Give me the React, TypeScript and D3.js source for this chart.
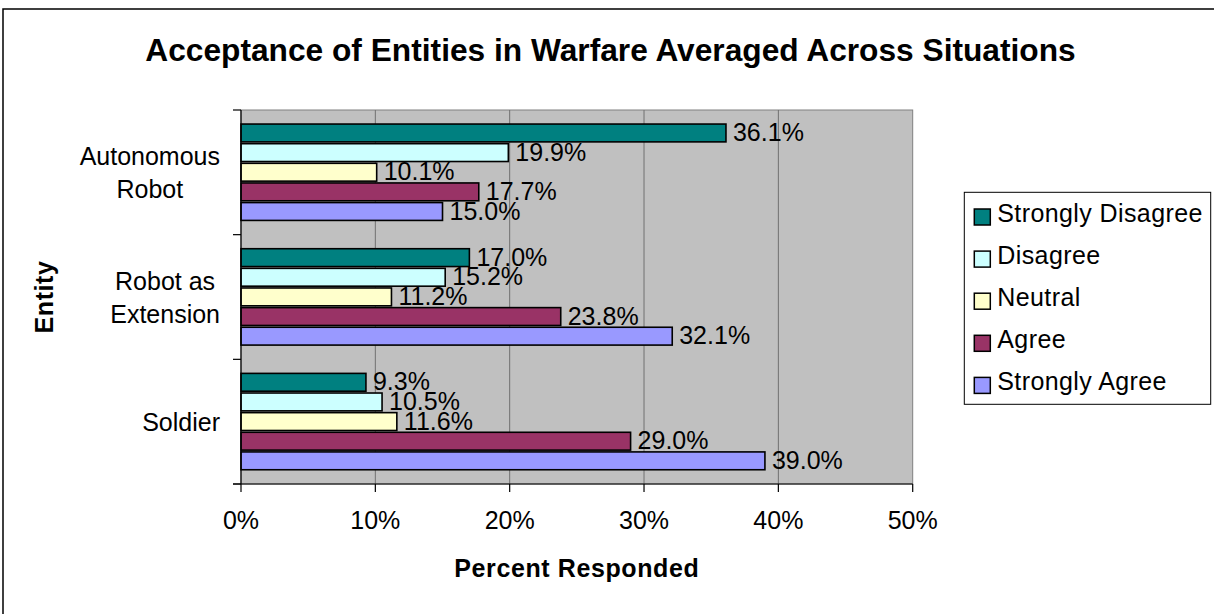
import { useMemo } from 'react';
import * as d3 from 'd3';

// Categories (top to bottom) and answer series
const entities = ['Autonomous Robot', 'Robot as Extension', 'Soldier'];
const entityLines = [['Autonomous', 'Robot'], ['Robot as', 'Extension'], ['Soldier']];
const responses = ['Strongly Disagree', 'Disagree', 'Neutral', 'Agree', 'Strongly Agree'];

// percent responded, one array per answer, same order as entities
const stronglyDisagree = [36.1, 17.0, 9.3];
const disagree = [19.9, 15.2, 10.5];
const neutral = [10.1, 11.2, 11.6];
const agree = [17.7, 23.8, 29.0];
const stronglyAgree = [15.0, 32.1, 39.0];

const tickValues = [0, 10, 20, 30, 40, 50];
const tickLabels = ['0%', '10%', '20%', '30%', '40%', '50%'];

const colors = ['#008080', '#CCFFFF', '#FFFFCC', '#993366', '#9999FF'];

export default function App() {
  const width = 1214;
  const height = 614;
  const plotLeft = 241;
  const plotRight = 912.7;
  const plotTop = 110;
  const plotBottom = 484;
  const font = "'Liberation Sans', Arial, sans-serif";

  const seriesValues = [stronglyDisagree, disagree, neutral, agree, stronglyAgree];

  const x = d3.scaleLinear().domain([0, 50]).range([plotLeft, plotRight]);
  const y = d3.scaleBand<string>().domain(entities).range([plotTop, plotBottom]).padding(0);

  const bandH = y.bandwidth();
  const barPitch = bandH / 6.35;
  const groupOffset = (bandH - barPitch * 5) / 2;
  const inner = d3.scaleBand<string>()
    .domain(responses)
    .range([groupOffset, groupOffset + barPitch * 5]);

  // measure label lines so each block is centered on itself, with the block right-aligned
  const labelCenters = useMemo(() => {
    const ctx = document.createElement('canvas').getContext('2d');
    return entityLines.map(lines => {
      let w = 0;
      if (ctx) {
        ctx.font = "25px 'Liberation Sans'";
        w = d3.max(lines, l => ctx.measureText(l).width) ?? 0;
      }
      return 220 - w / 2;
    });
  }, []);

  const legendX = 964.3;
  const legendY = 192.3;
  const legendRow = 42.1;

  return (
    <svg width={width} height={height} style={{ position: 'absolute', left: 0, top: 0, background: '#fff' }} fontFamily={font}>
      {/* outer chart frame, cropped at right and bottom */}
      <rect x={3} y={9} width={1240} height={640} fill='#fff' stroke='#000' strokeWidth={1.5} />

      <text x={610.5} y={61} textAnchor='middle' fontSize={31.7} fontWeight='bold' fill='#000'>
        Acceptance of Entities in Warfare Averaged Across Situations
      </text>

      {/* plot area */}
      <rect x={plotLeft} y={plotTop} width={plotRight - plotLeft} height={plotBottom - plotTop} fill='#C0C0C0' stroke='#808080' strokeWidth={1} />
      {tickValues.slice(1, -1).map(t => (
        <line key={t} x1={x(t)} x2={x(t)} y1={plotTop} y2={plotBottom} stroke='#707070' strokeWidth={1} />
      ))}

      {/* bars */}
      {entities.map((ent, ci) => (
        <g key={ent} transform={`translate(0,${y(ent)})`}>
          {responses.map((r, si) => {
            const v = seriesValues[si][ci];
            const by = inner(r)!;
            return (
              <g key={r}>
                <rect x={x(0)} y={by + 0.8} width={x(v) - x(0)} height={barPitch - 1.8} fill={colors[si]} stroke='#000' strokeWidth={1.6} />
                <text x={x(v) + 7} y={by + barPitch / 2 - 1} dominantBaseline='central' fontSize={25} fill='#000'>
                  {v.toFixed(1)}%
                </text>
              </g>
            );
          })}
        </g>
      ))}

      {/* axes */}
      <line x1={plotLeft} x2={plotLeft} y1={plotTop} y2={plotBottom} stroke='#000' strokeWidth={1.2} />
      <line x1={plotLeft - 8} x2={plotRight} y1={plotBottom} y2={plotBottom} stroke='#000' strokeWidth={1.2} />
      {[plotTop, ...entities.map(e => y(e)! + bandH)].map((t, i) => (
        <line key={i} x1={plotLeft - 8} x2={plotLeft} y1={t} y2={t} stroke='#000' strokeWidth={1.2} />
      ))}
      {tickValues.map((t, i) => (
        <g key={t}>
          <line x1={x(t)} x2={x(t)} y1={plotBottom} y2={plotBottom + 8} stroke='#000' strokeWidth={1.2} />
          <text x={x(t)} y={529} textAnchor='middle' fontSize={25} fill='#000'>{tickLabels[i]}</text>
        </g>
      ))}

      {entities.map((ent, ci) => {
        const lines = entityLines[ci];
        const mid = y(ent)! + bandH / 2;
        const first = mid + 9 - ((lines.length - 1) * 33) / 2;
        return (
          <text key={ent} textAnchor='middle' fontSize={25} fill='#000'>
            {lines.map((l, li) => (
              <tspan key={li} x={labelCenters[ci]} y={first + li * 33}>{l}</tspan>
            ))}
          </text>
        );
      })}

      <text x={(plotLeft + plotRight) / 2} y={577} textAnchor='middle' fontSize={25} fontWeight='bold' letterSpacing={0.6} fill='#000'>
        Percent Responded
      </text>
      <text transform={`translate(53,${(plotTop + plotBottom) / 2}) rotate(-90)`} textAnchor='middle' fontSize={25} fontWeight='bold' letterSpacing={0.6} fill='#000'>
        Entity
      </text>

      {/* legend */}
      <rect x={legendX} y={legendY} width={1210.7 - legendX} height={404.3 - legendY} fill='#fff' stroke='#000' strokeWidth={1} />
      {responses.map((r, i) => (
        <g key={r} transform={`translate(${legendX + 10},${legendY + 16.7 + i * legendRow})`}>
          <rect x={0} y={0} width={16} height={16} fill={colors[i]} stroke='#000' strokeWidth={1.5} />
          <text x={23} y={13} fontSize={25} letterSpacing={0.4} fill='#000'>{r}</text>
        </g>
      ))}
    </svg>
  );
}
